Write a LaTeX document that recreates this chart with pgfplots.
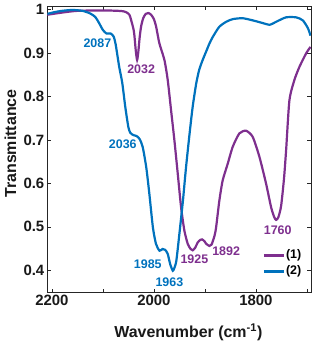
\documentclass[border=0pt]{standalone}
\usepackage{fontspec}
\setmainfont{Liberation Sans}
\usepackage{pgfplots}
\pgfplotsset{compat=1.18}
\usetikzlibrary{calc}
\definecolor{cone}{RGB}{126,47,142}
\definecolor{ctwo}{RGB}{0,114,189}
\begin{document}
\begin{tikzpicture}
\begin{axis}[
  scale only axis, width=263.7bp, height=285.5bp,
  x dir=reverse, xmin=1692, xmax=2209, ymin=0.35, ymax=1.007,
  xtick={1800,2000,2200}, xticklabels={1800,2000,2200},
  minor xtick={1700,1900,2100},
  ytick={0.4,0.5,0.6,0.7,0.8,0.9,1},
  yticklabels={0.4,0.5,0.6,0.7,0.8,0.9,1},
  /pgf/number format/assume math mode=true,
  tick align=inside, major tick length=3.5bp, minor tick length=3.5bp,
  axis line style={black!85, line width=0.8bp},
  every tick/.style={black!85, line width=0.6bp},
  tick label style={font=\fontsize{15}{15}\selectfont\bfseries, black!90},
  yticklabel style={xshift=0.5bp},
  xlabel={Wavenumber (cm\textsuperscript{-1})},
  ylabel={Transmittance},
  label style={font=\fontsize{16}{16}\selectfont\bfseries, black!90},
  xlabel style={at={(axis description cs:0.535,-0.161)}, anchor=base},
  ylabel style={at={(axis description cs:-0.14,0.52)}, anchor=center},
  legend image code/.code={\draw[#1] (0bp,0bp) -- (20bp,0bp);},
  legend style={at={(axis description cs:0.892,0.1)}, anchor=center,
    draw=none, fill=none, inner sep=0pt, row sep=2bp,
    font=\fontsize{12.5}{12.5}\selectfont\bfseries,
    nodes={inner sep=1pt, text height=9bp, text depth=3bp}},
  legend cell align=left,
]
\addplot[color=cone, line width=2.2bp, smooth, tension=0.4] coordinates {
(2209,0.988) (2180,0.993) (2150,0.997) (2100,0.998) (2070,0.997) (2060,0.996)
(2054.5,0.994) (2048,0.988) (2044.7,0.976) (2040,0.955) (2038.2,0.940) (2035.5,0.905)
(2032.9,0.884) (2030.5,0.903) (2028,0.935) (2025.1,0.961) (2021,0.980) (2016,0.990)
(2011,0.992) (2005.5,0.988) (2000,0.978) (1995.7,0.961) (1989.2,0.922) (1979.4,0.884)
(1972.9,0.838) (1966.3,0.768) (1959.8,0.699) (1953.3,0.623) (1946.7,0.545)
(1940.2,0.491) (1933.7,0.461) (1928,0.449) (1923.9,0.446) (1919,0.452) (1914.1,0.464)
(1909,0.470) (1905.5,0.471) (1901,0.467) (1897.6,0.461) (1891.2,0.456) (1887,0.459)
(1884.7,0.466) (1881,0.480) (1878,0.499) (1871.6,0.561) (1865.1,0.607) (1855.3,0.645)
(1845.5,0.684) (1832.4,0.715) (1819.2,0.721) (1806.3,0.707) (1793.1,0.661)
(1780,0.599) (1770.2,0.545) (1764,0.522) (1760.4,0.516) (1756,0.522) (1750.6,0.548)
(1745,0.610) (1740.8,0.676) (1734.3,0.791) (1724.5,0.838) (1714.7,0.868)
(1701.6,0.899) (1693,0.914)
};
\addlegendentry{(1)}
\addplot[color=ctwo, line width=2.2bp, smooth, tension=0.4] coordinates {
(2209,0.990) (2195,0.994) (2180,0.997) (2160,0.999) (2140,0.997) (2125,0.991)
(2115,0.983) (2108,0.970) (2100,0.953) (2093,0.945) (2085,0.945) (2079,0.938)
(2075,0.920) (2068,0.868) (2062,0.831) (2056,0.775) (2050,0.729) (2046,0.716)
(2040,0.711) (2034,0.709) (2028,0.702) (2022,0.684) (2015,0.637) (2009,0.577)
(2002,0.499) (1996,0.461) (1989,0.445) (1983,0.449) (1978,0.447) (1973,0.438)
(1968,0.414) (1963,0.399) (1960,0.405) (1956,0.422) (1950,0.484) (1943,0.561)
(1937,0.637) (1930,0.715) (1924,0.776) (1917,0.830) (1911,0.862) (1904,0.885)
(1897,0.905) (1891,0.922) (1885,0.936) (1872,0.960) (1858,0.972) (1845,0.978)
(1826,0.980) (1806,0.975) (1787,0.969) (1773,0.965) (1760,0.972) (1741,0.982)
(1721,0.982) (1708,0.975) (1698,0.957) (1693,0.940)
};
\addlegendentry{(2)}
\begin{scope}[font=\fontsize{12.5}{12.5}\selectfont\bfseries]
\node[ctwo] at (axis cs:2110.8,0.923) {2087};
\node[cone] at (axis cs:2025,0.862) {2032};
\node[ctwo] at (axis cs:2061,0.691) {2036};
\node[ctwo] at (axis cs:2012,0.414) {1985};
\node[ctwo] at (axis cs:1969.6,0.372) {1963};
\node[cone] at (axis cs:1920.6,0.426) {1925};
\node[cone] at (axis cs:1858.4,0.443) {1892};
\node[cone] at (axis cs:1757.3,0.493) {1760};
\end{scope}
\coordinate (bl) at (axis description cs:0,0);
\coordinate (tr) at (axis description cs:1,1);
\end{axis}
\pgfresetboundingbox
\path[use as bounding box] ($(bl)+(-47.3bp,-51bp)$) rectangle ($(tr)+(5bp,6.5bp)$);
\end{tikzpicture}
\end{document}
